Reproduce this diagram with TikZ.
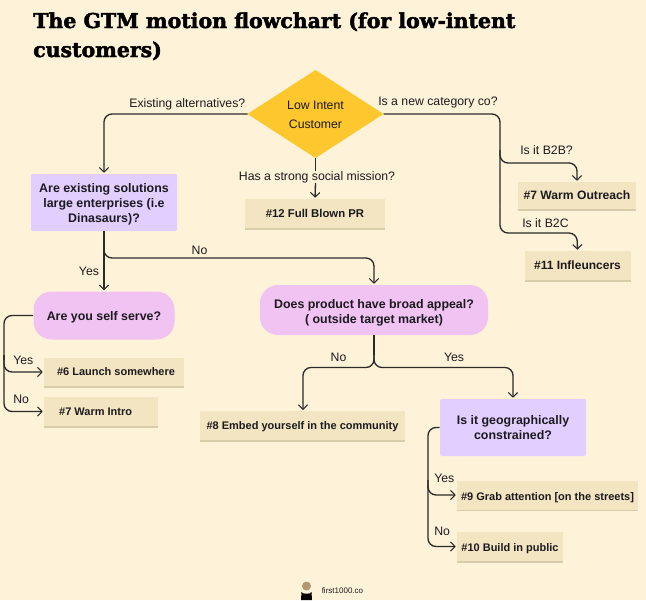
\documentclass[tikz,border=0pt]{standalone}
\usepackage{fontspec}
\setmainfont{Liberation Sans}
\newfontfamily\titlefont[BoldFeatures={FakeBold=2.2}]{DejaVu Serif}
\usetikzlibrary{arrows.meta}
\definecolor{bgc}{HTML}{FEF3D8}
\definecolor{ink}{HTML}{1C1A1E}
\definecolor{linec}{HTML}{2A2A28}
\definecolor{purp}{HTML}{E2CFFF}
\definecolor{pink}{HTML}{F0C3F3}
\definecolor{tan}{HTML}{F3E5C1}
\definecolor{shade}{HTML}{D8CCAA}
\definecolor{gold}{HTML}{FEC72E}
\def\px{0.75pt}
\newcommand\upstrut[1]{\rule{0pt}{#1pt}}
\tikzset{
  x=0.75pt,y=-0.75pt,
  base/.style={inner sep=0pt,align=center,text=ink,font=\fontsize{9.3}{11.2}\selectfont\bfseries},
  purplebox/.style={base,rectangle,fill=purp,rounded corners=1pt},
  pinkbox/.style={base,rectangle,fill=pink,rounded corners=18*\px},
  tanbox/.style={base,rectangle,fill=tan,font=\fontsize{8.25}{10}\selectfont\bfseries,preaction={fill=shade,transform canvas={yshift=-1.5*\px}}},
  lab/.style={inner sep=0pt,text=ink,font=\fontsize{9.2}{11}\selectfont},
  conn/.style={draw=linec,line width=1pt,rounded corners=8*\px},
  arr/.style={conn,-{Straight Barb[length=3.4pt,width=7pt,line width=0.8pt]},shorten >=1*\px},
}
\begin{document}
\begin{tikzpicture}
\useasboundingbox (0,0) rectangle (646,600);
\fill[bgc] (0,0) rectangle (646,600);

\node[anchor=base west,inner sep=0pt,text=black,font=\titlefont\fontsize{15.35}{20}\selectfont\bfseries] (t1) at (33,28) {The GTM motion flowchart (for low-intent};
\node[anchor=base west,inner sep=0pt,text=black,font=\titlefont\fontsize{15.35}{20}\selectfont\bfseries] (t2) at (33,57) {customers)};

\fill[gold] (247.5,114) coordinate (diaW) -- (315.5,70) -- (383.5,114) coordinate (diaE) -- (315.5,158) coordinate (diaS) -- cycle;
\node[lab,align=center,font=\fontsize{9.2}{13.5}\selectfont] (dia) at (315.5,115) {Low Intent\\[0.5pt]Customer};

\node[purplebox,minimum width=146*\px,minimum height=57*\px] (q1) at (104,202.5) {\upstrut{10}Are existing solutions\\large enterprises (i.e\\Dinasaurs)?};
\node[tanbox,minimum width=140*\px,minimum height=29*\px,font=\fontsize{8.5}{10}\selectfont\bfseries] (r12) at (315,213.5) {\#12 Full Blown PR};
\node[tanbox,minimum width=118*\px,minimum height=27*\px,font=\fontsize{9.1}{10}\selectfont\bfseries] (r7o) at (577,195.5) {\#7 Warm Outreach};
\node[tanbox,minimum width=106*\px,minimum height=29*\px,font=\fontsize{9}{10}\selectfont\bfseries] (r11) at (577.5,265.5) {\#11 Infleuncers};
\node[pinkbox,minimum width=141*\px,minimum height=48*\px] (q2) at (104,315.5) {\upstrut{10}Are you self serve?};
\node[tanbox,minimum width=140*\px,minimum height=28*\px] (r6) at (114,372) {\hspace{3pt}\#6 Launch somewhere};
\node[tanbox,minimum width=114*\px,minimum height=29*\px] (r7i) at (101,411.5) {\#7 Warm Intro\hspace{8pt}};
\node[pinkbox,minimum width=228*\px,minimum height=50*\px] (q3) at (374,310) {\upstrut{11.4}Does product have broad appeal?\\( outside target market)};
\node[tanbox,minimum width=205*\px,minimum height=29*\px] (r8) at (302.5,425.5) {\upstrut{8}\#8 Embed yourself in the community};
\node[purplebox,minimum width=146*\px,minimum height=57*\px] (q4) at (513,427.5) {Is it geographically\\constrained?};
\node[tanbox,minimum width=181*\px,minimum height=29*\px] (r9) at (547.5,495) {\upstrut{10}\#9 Grab attention [on the streets]};
\node[tanbox,minimum width=106*\px,minimum height=29*\px] (r10) at (510,546.5) {\upstrut{9}\#10 Build in public};

% connectors
\coordinate (b2b) at (500,150);
\coordinate (b2c) at (500,200);
\draw[arr] (diaW) -| (q1.north);
\draw[conn] (diaE) -| (b2c);
\draw[arr] (b2b) |- (577,163) -- (r7o.north);
\draw[arr] (b2c) |- (577,233) -- (r11.north);
\draw[conn] (diaS) -- (315.5,171);
\draw[arr] (315.5,183) -- (r12.north);
\draw[arr] (q1.south) -- (q2.north);
\draw[arr] (104,245) |- (374,258) -- (q3.north);
\draw[conn] (q2.west) -| (4,360);
\draw[arr] (4,355) |- (r6.west);
\draw[arr] (4,355) |- (r7i.west);
\draw[conn] (q3.south) -- (374,355);
\draw[arr] (374,355) |- (303,367.5) -- (303,411);
\draw[arr] (374,355) |- (513,367.5) -- (q4.north);
\draw[conn] (q4.west) -| (428,480);
\draw[arr] (428,480) |- (r9.west);
\draw[arr] (428,480) |- (r10.west);

% labels
\node[lab,anchor=base east] (l1) at (245.5,107) {Existing alternatives?};
\node[lab,anchor=base west] (l2) at (378,105.5) {Is a new category co?};
\node[lab,anchor=center] (l3) at (317,177.5) {Has a strong social mission?};
\node[lab,anchor=base west] (l4) at (520,154) {Is it B2B?};
\node[lab,anchor=base west] (l5) at (522,227) {Is it B2C};
\node[lab,anchor=base] (l6) at (199.5,254) {No};
\node[lab,anchor=base] (l7) at (89,275) {Yes};
\node[lab,anchor=base west] (l8) at (13,364) {Yes};
\node[lab,anchor=base west] (l9) at (13,403) {No};
\node[lab,anchor=base] (l10) at (338.5,361) {No};
\node[lab,anchor=base] (l11) at (454,361) {Yes};
\node[lab,anchor=base west] (l12) at (434,482.5) {Yes};
\node[lab,anchor=base west] (l13) at (434,535) {No};

% footer
\fill[black] (301,600) -- (301.5,592) to[out=-90,in=-90,looseness=0.6] (311.5,592) -- (312,600) -- cycle;
\fill[black!20!shade!70!brown] (306.5,586) circle[radius=4.5];
\node[inner sep=0pt,anchor=base west,text=ink,font=\fontsize{6}{7}\selectfont] (f) at (321.5,593.5) {first1000.co};
\end{tikzpicture}
\end{document}
